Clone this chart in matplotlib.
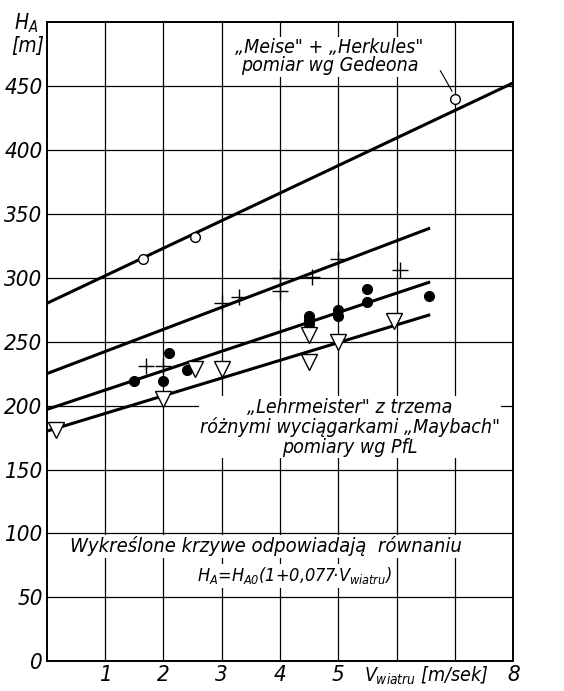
import matplotlib.pyplot as plt
import numpy as np

plt.rcParams['font.family'] = ['DejaVu Sans']
plt.rcParams['font.style'] = 'italic'
plt.rcParams['font.stretch'] = 'condensed'
plt.rcParams['mathtext.fontset'] = 'dejavusans'

meise_x = [1.65, 2.55, 7.0]
meise_y = [315, 332, 440]
plus_x = [1.7, 2.0, 3.0, 3.3, 4.0, 4.0, 4.55, 5.0, 6.05]
plus_y = [231, 231, 280, 285, 300, 290, 301, 315, 306]
dot_x = [1.5, 2.0, 2.1, 2.4, 4.5, 4.5, 4.5, 5.0, 5.0, 5.5, 5.5, 6.55]
dot_y = [219, 219, 241, 228, 270, 267, 264, 275, 270, 291, 281, 286]
tri_x = [0.15, 2.0, 2.55, 3.0, 4.5, 4.5, 5.0, 5.95]
tri_y = [181, 205, 229, 229, 255, 234, 250, 266]

# fitted curves H_A = H_A0 * (1 + 0.077 * V)
h_a0 = [280, 225, 197, 180]
v_end = [8.0, 6.55, 6.55, 6.55]
k = 0.077

fig = plt.figure(figsize=(5.64, 6.91), dpi=100)
ax = fig.add_axes([0.083, 0.043, 0.827, 0.925])
ax.set_xlim(0, 8)
ax.set_ylim(0, 500)

# grid
for v in range(1, 8):
    ax.axvline(v, color='black', lw=0.9, zorder=1)
for h in range(50, 500, 50):
    ax.axhline(h, color='black', lw=0.9, zorder=1)
for s in ax.spines.values():
    s.set_linewidth(1.4)

for h0, ve in zip(h_a0, v_end):
    v = np.array([0, ve])
    ax.plot(v, h0 * (1 + k * v), color='black', lw=2.2, zorder=3)

ax.plot(meise_x, meise_y, 'o', ms=7, mfc='white', mec='black', mew=1.0, zorder=4)
ax.plot(plus_x, plus_y, '+', ms=11, color='black', mew=1.0, zorder=4)
ax.plot(dot_x, dot_y, 'o', ms=7, color='black', zorder=4)
ax.plot(tri_x, tri_y, 'v', ms=11, mfc='white', mec='black', mew=1.0, zorder=4)

ax.set_xticks(range(0, 9))
ax.set_xticklabels(['', '1', '2', '3', '4', '5', '', '', '8'])
ax.set_yticks(range(0, 500, 50))
ax.tick_params(length=0, labelsize=16, pad=3)

box = dict(facecolor='white', edgecolor='none', pad=1)
ax.text(4.85, 473, '„Meise" + „Herkules"\npomiar wg Gedeona', ha='center', va='center',
        fontsize=14, linespacing=0.95, bbox=box, zorder=2)
ax.plot([6.75, 6.95], [462, 446], color='black', lw=0.8, zorder=2)
ax.text(5.2, 183, '„Lehrmeister" z trzema\nróżnymi wyciągarkami „Maybach"\npomiary wg PfL',
        ha='center', va='center', fontsize=14, linespacing=1.05, bbox=box, zorder=2)
ax.text(3.75, 90, 'Wykreślone krzywe odpowiadają  równaniu', ha='center', va='center',
        fontsize=14.5, bbox=box, zorder=2)
ax.text(4.25, 67, r'$H_A$=$H_{A0}$(1+0,077·$V_{wiatru}$)', ha='center', va='center',
        fontsize=13, bbox=box, zorder=2)

fig.text(0.025, 0.967, r'$H_A$', fontsize=15, va='center')
fig.text(0.02, 0.934, '[m]', fontsize=15, va='center')
fig.text(0.645, 0.022, r'$V_{wiatru}$ [m/sek]', fontsize=14, va='center')

fig.savefig('out.png', dpi=100)
